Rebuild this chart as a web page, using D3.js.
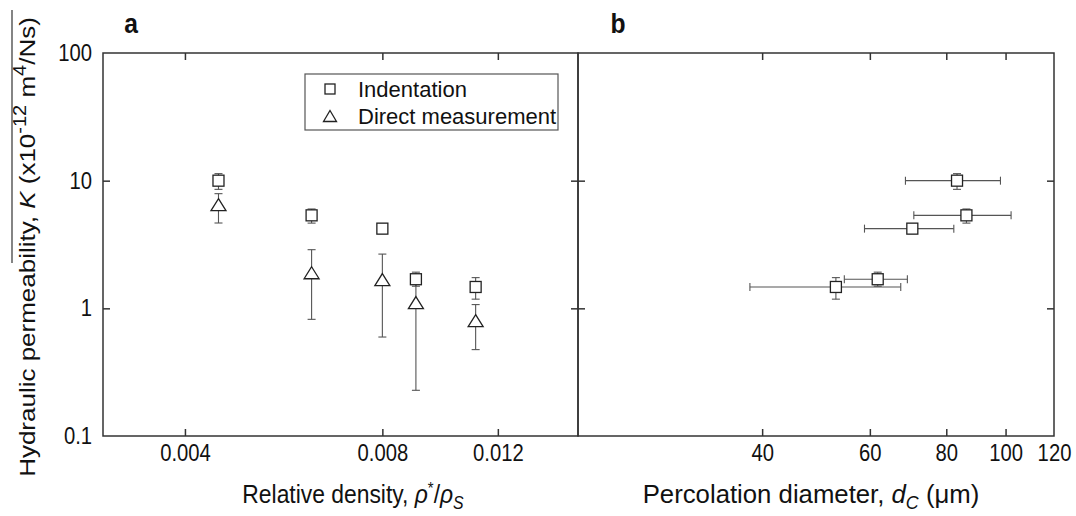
<!DOCTYPE html>
<html><head><meta charset="utf-8">
<script src="https://cdn.jsdelivr.net/npm/d3@7"></script>
<style>body{margin:0;background:#fff}svg{display:block}text{font-family:"Liberation Sans",Arial,sans-serif;fill:#111}</style>
</head><body><svg id="c" width="1076" height="516"></svg>
<script>
// ---- data ----
const relDensity = [0.0045, 0.00624, 0.0080, 0.0090, 0.0111];
const kIndent    = [10.0, 5.35, 4.21, 1.69, 1.47];
const kIndentLo  = [8.55, 4.65, 3.85, 1.49, 1.18];
const kIndentHi  = [11.35, 6.0, 4.6, 1.92, 1.74];
const kDirect    = [6.49, 1.90, 1.68, 1.11, 0.80];
const kDirectLo  = [4.66, 0.82, 0.596, 0.228, 0.475];
const kDirectHi  = [7.91, 2.88, 2.66, 1.55, 1.07];
const percDiam   = [83.3, 86.3, 70.4, 61.8, 52.8];
const percDiamLo = [68.6, 70.8, 58.8, 54.5, 38.2];
const percDiamHi = [98.1, 102.1, 82.3, 69.1, 67.4];
const yTicks  = [0.1, 1, 10, 100];
const xTicksA = [0.004, 0.008, 0.012];
const xTicksB = [40, 60, 80, 100, 120];
const legendLabels = ["Indentation", "Direct measurement"];

const svg = d3.select("#c");
const TOP = 53, BOT = 436, L = 103, MID = 578, R = 1054;
const SX = 0.88;
const y  = d3.scaleLog().domain([0.1, 100]).range([BOT, TOP]);
const xA = d3.scaleLog().domain([0.003, 0.0159]).range([L, MID]);
const xB = d3.scaleLog().domain([20, 120]).range([MID, R]);
const frameCol = "#333", barCol = "#555", mkCol = "#222";

function styleAxis(g, size) {
  g.select(".domain").remove();
  g.selectAll(".tick line").attr("stroke", frameCol).attr("stroke-width", 1.5);
  g.selectAll(".tick text").attr("font-size", size).attr("fill", "#111")
    .attr("font-family", "Liberation Sans, Arial, sans-serif");
}
const fmt = d => String(d);

// Panel a axes
let g = svg.append("g").attr("transform", `translate(0,${BOT})`)
  .call(d3.axisBottom(xA).tickValues(xTicksA).tickFormat(fmt).tickSize(-7).tickPadding(9));
styleAxis(g, 23); g.selectAll(".tick text").attr("transform", `scale(${SX},1)`);
g = svg.append("g").attr("transform", `translate(0,${TOP})`)
  .call(d3.axisTop(xA).tickValues(xTicksA).tickFormat("").tickSize(-7));
styleAxis(g, 23);
g = svg.append("g").attr("transform", `translate(${L},0)`)
  .call(d3.axisLeft(y).tickValues(yTicks).tickFormat(fmt).tickSize(-7).tickPadding(12.5));
styleAxis(g, 23); g.selectAll(".tick text").attr("transform", `scale(${SX},1)`);
g.selectAll(".tick line").filter(d => d === 0.1 || d === 100).remove();
g = svg.append("g").attr("transform", `translate(${MID},0)`)
  .call(d3.axisRight(y).tickValues([1, 10]).tickFormat("").tickSize(-7));
styleAxis(g, 23);

// Panel b axes
g = svg.append("g").attr("transform", `translate(0,${BOT})`)
  .call(d3.axisBottom(xB).tickValues(xTicksB).tickFormat(fmt).tickSize(-7).tickPadding(9));
styleAxis(g, 23); g.selectAll(".tick text").attr("transform", `scale(${SX},1)`);
g.selectAll(".tick line").filter(d => d === 120).remove();
g = svg.append("g").attr("transform", `translate(0,${TOP})`)
  .call(d3.axisTop(xB).tickValues(xTicksB).tickFormat("").tickSize(-7));
styleAxis(g, 23); g.selectAll(".tick line").filter(d => d === 120).remove();
g = svg.append("g").attr("transform", `translate(${MID},0)`)
  .call(d3.axisLeft(y).tickValues([1, 10]).tickFormat("").tickSize(-7));
styleAxis(g, 23);
g = svg.append("g").attr("transform", `translate(${R},0)`)
  .call(d3.axisRight(y).tickValues([1, 10]).tickFormat("").tickSize(-7));
styleAxis(g, 23);

// frames
svg.append("rect").attr("x", L).attr("y", TOP).attr("width", MID - L).attr("height", BOT - TOP)
  .attr("fill", "none").attr("stroke", frameCol).attr("stroke-width", 1.5);
svg.append("rect").attr("x", MID).attr("y", TOP).attr("width", R - MID).attr("height", BOT - TOP)
  .attr("fill", "none").attr("stroke", frameCol).attr("stroke-width", 1.5);

// error bar helpers
const CAP = 4;
function vbar(x, y1, y2) {
  svg.append("line").attr("x1", x).attr("x2", x).attr("y1", y1).attr("y2", y2).attr("stroke", barCol).attr("stroke-width", 1.1);
  [y1, y2].forEach(yy => svg.append("line").attr("x1", x - CAP).attr("x2", x + CAP).attr("y1", yy).attr("y2", yy).attr("stroke", barCol).attr("stroke-width", 1.1));
}
function hbar(yy, x1, x2) {
  svg.append("line").attr("x1", x1).attr("x2", x2).attr("y1", yy).attr("y2", yy).attr("stroke", barCol).attr("stroke-width", 1.1);
  [x1, x2].forEach(xx => svg.append("line").attr("x1", xx).attr("x2", xx).attr("y1", yy - CAP).attr("y2", yy + CAP).attr("stroke", barCol).attr("stroke-width", 1.1));
}
function square(x, yy, s) {
  svg.append("rect").attr("x", x - s / 2).attr("y", yy - s / 2).attr("width", s).attr("height", s)
    .attr("fill", "#fff").attr("stroke", mkCol).attr("stroke-width", 1.3);
}
function tri(x, yy, w, h) {
  svg.append("path").attr("d", `M${x},${yy - h / 2}L${x + w / 2},${yy + h / 2}L${x - w / 2},${yy + h / 2}Z`)
    .attr("fill", "#fff").attr("stroke", mkCol).attr("stroke-width", 1.3);
}

// Panel a data
relDensity.forEach((d, i) => {
  vbar(xA(d), y(kDirectHi[i]), y(kDirectLo[i]));
  tri(xA(d), y(kDirect[i]), 15, 12);
});
relDensity.forEach((d, i) => {
  vbar(xA(d), y(kIndentHi[i]), y(kIndentLo[i]));
  square(xA(d), y(kIndent[i]), 11);
});
// Panel b data
percDiam.forEach((d, i) => {
  hbar(y(kIndent[i]), xB(percDiamLo[i]), xB(percDiamHi[i]));
  vbar(xB(d), y(kIndentHi[i]), y(kIndentLo[i]));
  square(xB(d), y(kIndent[i]), 11);
});

// text helper
function txt(x, yy, size, anchor, weight, sx) {
  return svg.append("text").attr("transform", `translate(${x},${yy}) scale(${sx || SX},1)`)
    .attr("font-size", size).attr("text-anchor", anchor).attr("font-weight", weight || "normal");
}

// Legend
svg.append("rect").attr("x", 305).attr("y", 74).attr("width", 253).attr("height", 56)
  .attr("fill", "#fff").attr("stroke", "#555").attr("stroke-width", 1.2);
square(330, 89, 10);
tri(330, 116, 13, 11);
txt(358, 97, 22, "start", "normal", 1).text(legendLabels[0]);
txt(358, 124, 22, "start", "normal", 1).text(legendLabels[1]);

// panel letters
txt(131, 33, 28, "middle", "bold").text("a");
txt(618, 33, 28, "middle", "bold").text("b");

// x titles
let t = txt(353, 503, 26, "middle");
t.append("tspan").text("Relative density, ");
t.append("tspan").attr("font-style", "italic").text("ρ");
t.append("tspan").attr("font-size", 17).attr("dy", -9).text("*");
t.append("tspan").attr("dy", 9).text("/");
t.append("tspan").attr("font-style", "italic").text("ρ");
t.append("tspan").attr("font-size", 18).attr("dy", 6).attr("font-style", "italic").text("S");

t = txt(811, 503, 26, "middle", "normal", 0.99);
t.append("tspan").text("Percolation diameter, ");
t.append("tspan").attr("font-style", "italic").text("d");
t.append("tspan").attr("font-size", 18).attr("dy", 6).attr("font-style", "italic").text("C");
t.append("tspan").attr("dy", -6).text(" (μm)");

// y title (rotated)
t = svg.append("text").attr("transform", `translate(35,247) scale(${SX},1) rotate(-90)`)
  .attr("font-size", 26).attr("text-anchor", "middle");
t.append("tspan").text("Hydraulic permeability, ");
t.append("tspan").attr("font-style", "italic").text("K");
t.append("tspan").text(" (x10");
t.append("tspan").attr("font-size", 20).attr("dy", -10).text("-12");
t.append("tspan").attr("dy", 10).text(" m");
t.append("tspan").attr("font-size", 20).attr("dy", -10).text("4");
t.append("tspan").attr("dy", 10).text("/Ns)");
svg.append("line").attr("x1", 12).attr("x2", 12).attr("y1", 10).attr("y2", 263)
  .attr("stroke", "#333").attr("stroke-width", 1.2);
</script></body></html>
